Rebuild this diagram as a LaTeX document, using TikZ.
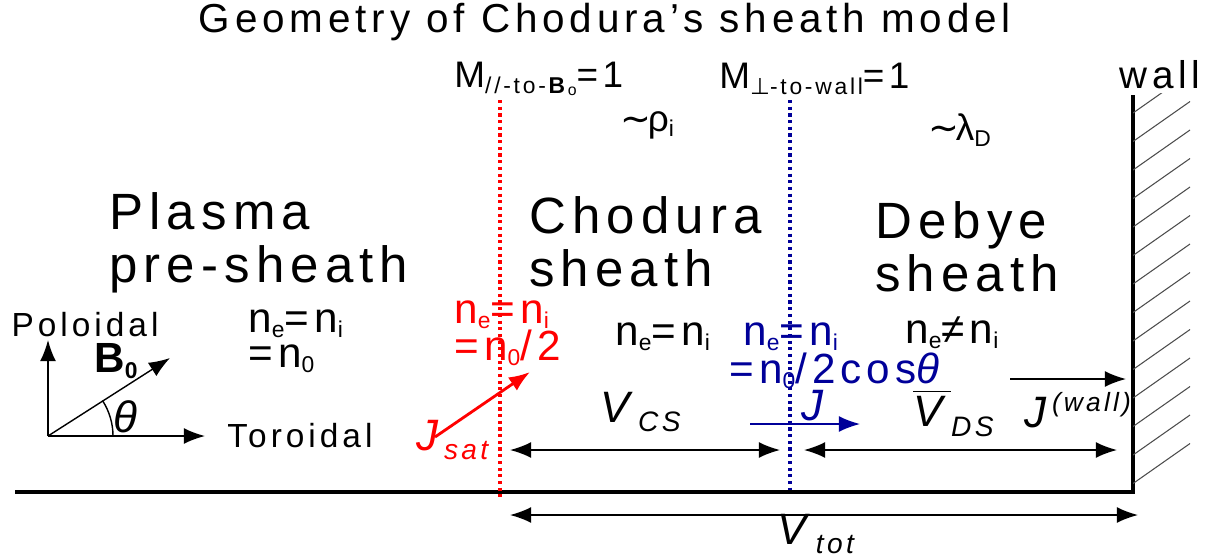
\documentclass[tikz,border=0pt]{standalone}
\usepackage{fontspec}
\setmainfont{Liberation Sans}[LetterSpace=12]
\newfontfamily\symfont{DejaVu Sans}
\usetikzlibrary{arrows.meta}
\newcommand{\sbs}[1]{\raisebox{-1.6pt}{\fontsize{6.5}{7}\selectfont #1}}
\newcommand{\vsub}[1]{\raisebox{-2.6pt}{\fontsize{8}{9}\selectfont\textit{#1}}}

\begin{document}
\begin{tikzpicture}[x=0.01cm,y=0.01cm,>={Latex[length=6pt,width=4.5pt]},
  big/.style={font=\fontsize{14.5}{15}\selectfont,align=left,anchor=west},
  lbl/.style={font=\fontsize{9.5}{10.5}\selectfont},
  mlbl/.style={font=\fontsize{10.5}{11}\selectfont,anchor=west},
  dens/.style={font=\fontsize{12}{12}\selectfont,anchor=base west},
  sym/.style={font=\fontsize{12.5}{12}\selectfont}]
  \useasboundingbox (0,0) rectangle (1212,556);
  % title
  \node[font=\fontsize{11.5}{12}\selectfont] (title) at (605,534) {Geometry of Chodura’s sheath model};
  % wall and ground
  \draw[line width=1.2pt] (15,64) -- (1133,64) -- (1133,461);
  \begin{scope}
    \clip (1133,64) rectangle (1195,463);
    \foreach \i in {0,...,13}
      \draw[line width=0.3pt,black!70] (1133,443-28.5*\i) -- ++(57,40);
  \end{scope}
  \node[font=\fontsize{11}{12}\selectfont] (wall) at (1160,481) {wall};
  % sheath edges
  \draw[red,densely dotted,line width=0.9pt] (500,456) -- (500,59);
  \draw[blue!60!black,densely dotted,line width=0.9pt] (790,456) -- (790,66);
  \node[mlbl] (mpar) at (442,477) {M\sbs{//-to-\textbf{B}\raisebox{-0.5pt}{\fontsize{4.5}{5}\selectfont o}}=1};
  \node[mlbl] (mperp) at (707,477) {M\sbs{{\symfont ⊥}-to-wall}=1};
  \node[mlbl] (rho) at (608,431) {{\symfont ∼}\kern-1ptρ\sbs{i}};
  \node[mlbl] (lam) at (916,426) {{\symfont ∼}\kern-1ptλ\sbs{D}};
  % regions
  \node[big] (plasma) at (97,313) {Plasma\\pre-sheath};
  \node[big] (chodura) at (517,314) {Chodura\\sheath};
  \node[big] (debye) at (863,309) {Debye\\sheath};
  % field geometry
  \coordinate (o) at (48,120);
  \coordinate (pol) at (48,216);
  \coordinate (tor) at (205,120);
  \coordinate (bz) at (170,198);
  \draw[->] (o) -- (pol);
  \draw[->] (o) -- (tor);
  \draw[->] (o) -- (bz);
  \draw (o) ++(65,0) arc (0:33:65);
  \node[lbl] (poloidal) at (85,231) {Poloidal};
  \node[lbl] (toroidal) at (300,120) {Toroidal};
  \node[font=\fontsize{12}{12}\selectfont] (bfield) at (116,195) {\textbf{B\sbs{0}}};
  \node[sym] (theta) at (128,139) {\textit{θ}};
  % densities
  \node[dens] (n0a) at (236,224) {n\sbs{e}=n\sbs{i}};
  \node[dens] (n0b) at (236,189) {=n\sbs{0}};
  \node[dens,red] (nmsa) at (442,233) {n\sbs{e}=n\sbs{i}};
  \node[dens,red] (nmsb) at (442,196) {=n\sbs{0}/2};
  \node[dens] (ncs) at (603,211) {n\sbs{e}=n\sbs{i}};
  \node[dens,blue!60!black] (nsea) at (731,211) {n\sbs{e}=n\sbs{i}};
  \node[dens,blue!60!black] (nseb) at (717,173) {=n\sbs{0}/2cos\textit{θ}};
  \node[dens] (nds) at (893,213) {n\sbs{e}≠n\sbs{i}};
  % currents
  \coordinate (js0) at (435,119);
  \coordinate (js1) at (530,184);
  \draw[->,red,line width=0.8pt] (js0) -- (js1);
  \node[sym,red,anchor=west] (jsat) at (404,116) {\textit{J}\vsub{sat}};
  \coordinate (j0) at (750,132);
  \coordinate (j1) at (860,132);
  \draw[->,blue!60!black] (j0) -- (j1);
  \node[sym,blue!60!black] (jcur) at (815,150) {\textit{J}};
  \coordinate (jw0) at (1010,177);
  \coordinate (jw1) at (1126,177);
  \draw[->] (jw0) -- (jw1);
  \node[sym,anchor=west] (jwall) at (1012,146) {\textit{J}\textsuperscript{\textit{\fontsize{7.5}{8}\selectfont(wall)}}};
  % potentials
  \coordinate (cs0) at (510,106);
  \coordinate (cs1) at (780,106);
  \coordinate (ds0) at (804,106);
  \coordinate (ds1) at (1117,106);
  \coordinate (tot0) at (510,41);
  \coordinate (tot1) at (1138,41);
  \draw[<->] (cs0) -- (cs1);
  \draw[<->] (ds0) -- (ds1);
  \draw[<->] (tot0) -- (tot1);
  \node[sym] (vcs) at (642,144) {\textit{V}\vsub{CS}};
  \node[sym] (vds) at (955,143) {$\overline{\mbox{\textit{V}}}$\vsub{DS}};
  \node[sym] (vtot) at (818,22) {\textit{V}\vsub{tot}};
\end{tikzpicture}
\end{document}
